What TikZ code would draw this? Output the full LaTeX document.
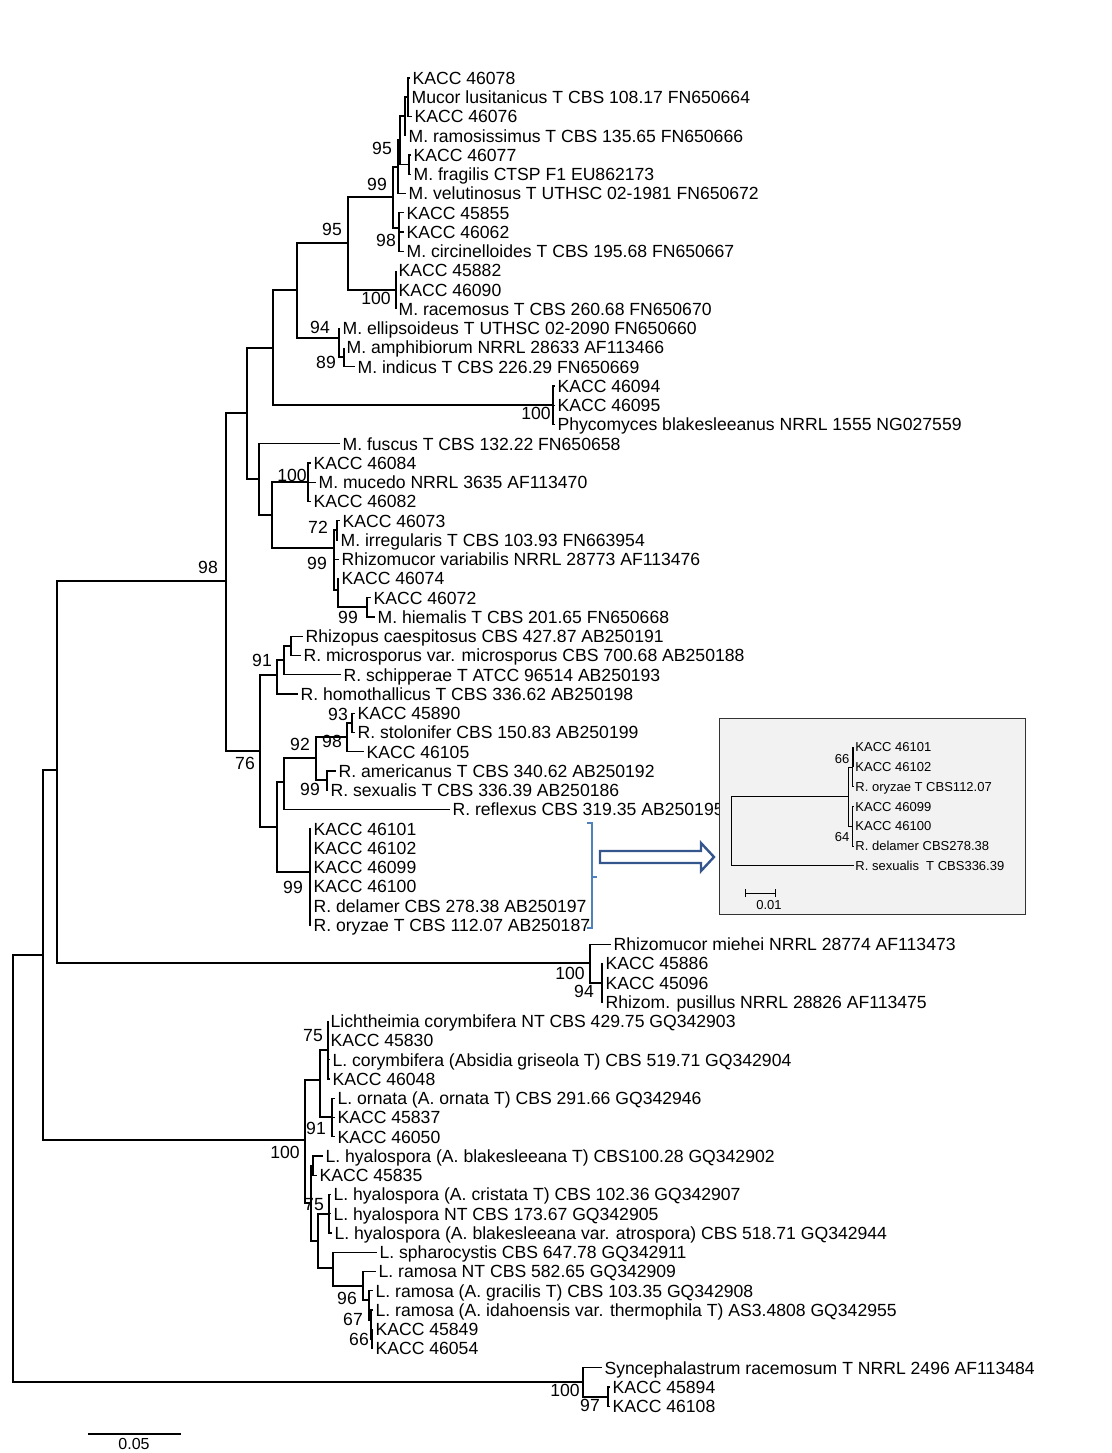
\documentclass[tikz,border=0pt]{standalone}
\usepackage{fontspec}
\setmainfont{Liberation Sans}
\definecolor{brk}{RGB}{79,129,189}
\definecolor{arw}{RGB}{52,86,140}
\definecolor{insetbg}{RGB}{242,242,242}
\newcommand{\treefont}{\fontsize{17.6}{20}\selectfont}
\newcommand{\insetfont}{\fontsize{13}{15}\selectfont}

\begin{document}
\begin{tikzpicture}[x=1pt,y=-1pt,line width=1.2pt,
    leaf/.style={anchor=west,inner xsep=2pt,inner ysep=0pt,text height=12.6pt,text depth=0pt,font=\treefont},
    bs/.style={inner sep=0pt,font=\treefont},
    ileaf/.style={anchor=west,inner xsep=1.5pt,inner ysep=0pt,text height=9.3pt,text depth=0pt,font=\insetfont},
    ibs/.style={inner sep=0pt,font=\insetfont}]
  \useasboundingbox (0,0) rectangle (1111,1453);

  % leaves
  \node [leaf] (l1) at (410,78) {KACC 46078};
  \node [leaf] (l2) at (409,97.25) {Mucor lusitanicus T CBS 108.17 FN650664};
  \node [leaf] (l3) at (412,116.5) {KACC 46076};
  \node [leaf] (l4) at (406,135.75) {M. ramosissimus T CBS 135.65 FN650666};
  \node [leaf] (l5) at (411,155) {KACC 46077};
  \node [leaf] (l6) at (411,174.25) {M. fragilis CTSP F1 EU862173};
  \node [leaf] (l7) at (406,193.5) {M. velutinosus T UTHSC 02-1981 FN650672};
  \node [leaf] (l8) at (404,212.75) {KACC 45855};
  \node [leaf] (l9) at (404,232) {KACC 46062};
  \node [leaf] (l10) at (404,251.25) {M. circinelloides T CBS 195.68 FN650667};
  \node [leaf] (l11) at (396,270.5) {KACC 45882};
  \node [leaf] (l12) at (396,289.75) {KACC 46090};
  \node [leaf] (l13) at (396,309) {M. racemosus T CBS 260.68 FN650670};
  \node [leaf] (l14) at (340,328.25) {M. ellipsoideus T UTHSC 02-2090 FN650660};
  \node [leaf] (l15) at (344,347.5) {M. amphibiorum NRRL 28633 AF113466};
  \node [leaf] (l16) at (355,366.75) {M. indicus T CBS 226.29 FN650669};
  \node [leaf] (l17) at (555,386) {KACC 46094};
  \node [leaf] (l18) at (555,405.25) {KACC 46095};
  \node [leaf] (l19) at (555,424.5) {Phycomyces blakesleeanus NRRL 1555 NG027559};
  \node [leaf] (l20) at (340,443.75) {M. fuscus T CBS 132.22 FN650658};
  \node [leaf] (l21) at (311,463) {KACC 46084};
  \node [leaf] (l22) at (316,482.25) {M. mucedo NRRL 3635 AF113470};
  \node [leaf] (l23) at (311,501.5) {KACC 46082};
  \node [leaf] (l24) at (340,520.75) {KACC 46073};
  \node [leaf] (l25) at (338,540) {M. irregularis T CBS 103.93 FN663954};
  \node [leaf] (l26) at (339,559.25) {Rhizomucor variabilis NRRL 28773 AF113476};
  \node [leaf] (l27) at (339,578.5) {KACC 46074};
  \node [leaf] (l28) at (371,597.75) {KACC 46072};
  \node [leaf] (l29) at (375,617) {M. hiemalis T CBS 201.65 FN650668};
  \node [leaf] (l30) at (303,636.25) {Rhizopus caespitosus CBS 427.87 AB250191};
  \node [leaf] (l31) at (301,655.5) {R. microsporus var. microsporus CBS 700.68 AB250188};
  \node [leaf] (l32) at (341,674.75) {R. schipperae T ATCC 96514 AB250193};
  \node [leaf] (l33) at (298,694) {R. homothallicus T CBS 336.62 AB250198};
  \node [leaf] (l34) at (355,713.25) {KACC 45890};
  \node [leaf] (l35) at (355,732.5) {R. stolonifer CBS 150.83 AB250199};
  \node [leaf] (l36) at (364,751.75) {KACC 46105};
  \node [leaf] (l37) at (336,771) {R. americanus T CBS 340.62 AB250192};
  \node [leaf] (l38) at (328,790.25) {R. sexualis T CBS 336.39 AB250186};
  \node [leaf] (l39) at (450,809.5) {R. reflexus CBS 319.35 AB250195};
  \node [leaf] (l40) at (311,828.75) {KACC 46101};
  \node [leaf] (l41) at (311,848) {KACC 46102};
  \node [leaf] (l42) at (311,867.25) {KACC 46099};
  \node [leaf] (l43) at (311,886.5) {KACC 46100};
  \node [leaf] (l44) at (311,905.75) {R. delamer CBS 278.38 AB250197};
  \node [leaf] (l45) at (311,925) {R. oryzae T CBS 112.07 AB250187};
  \node [leaf] (l46) at (611,944.25) {Rhizomucor miehei NRRL 28774 AF113473};
  \node [leaf] (l47) at (603,963.5) {KACC 45886};
  \node [leaf] (l48) at (603,982.75) {KACC 45096};
  \node [leaf] (l49) at (603,1002) {Rhizom. pusillus NRRL 28826 AF113475};
  \node [leaf] (l50) at (328,1021.25) {Lichtheimia corymbifera NT CBS 429.75 GQ342903};
  \node [leaf] (l51) at (328,1040.5) {KACC 45830};
  \node [leaf] (l52) at (330,1059.75) {L. corymbifera (Absidia griseola T) CBS 519.71 GQ342904};
  \node [leaf] (l53) at (330,1079) {KACC 46048};
  \node [leaf] (l54) at (335,1098.25) {L. ornata (A. ornata T) CBS 291.66 GQ342946};
  \node [leaf] (l55) at (335,1117.5) {KACC 45837};
  \node [leaf] (l56) at (335,1136.75) {KACC 46050};
  \node [leaf] (l57) at (323,1156) {L. hyalospora (A. blakesleeana T) CBS100.28 GQ342902};
  \node [leaf] (l58) at (317,1175.25) {KACC 45835};
  \node [leaf] (l59) at (331,1194.5) {L. hyalospora (A. cristata T) CBS 102.36 GQ342907};
  \node [leaf] (l60) at (331,1213.75) {L. hyalospora NT CBS 173.67 GQ342905};
  \node [leaf] (l61) at (332,1233) {L. hyalospora (A. blakesleeana var. atrospora) CBS 518.71 GQ342944};
  \node [leaf] (l62) at (377,1252.25) {L. spharocystis CBS 647.78 GQ342911};
  \node [leaf] (l63) at (376,1271.5) {L. ramosa NT CBS 582.65 GQ342909};
  \node [leaf] (l64) at (373,1290.75) {L. ramosa (A. gracilis T) CBS 103.35 GQ342908};
  \node [leaf] (l65) at (373,1310) {L. ramosa (A. idahoensis var. thermophila T) AS3.4808 GQ342955};
  \node [leaf] (l66) at (373,1329.25) {KACC 45849};
  \node [leaf] (l67) at (373,1348.5) {KACC 46054};
  \node [leaf] (l68) at (602,1367.75) {Syncephalastrum racemosum T NRRL 2496 AF113484};
  \node [leaf] (l69) at (610,1387) {KACC 45894};
  \node [leaf] (l70) at (610,1406.25) {KACC 46108};

  % inner nodes
  \coordinate (a1) at (408,97);
  \coordinate (a2) at (405,116);
  \coordinate (a3) at (400,140);
  \coordinate (a4) at (409,164.6);
  \coordinate (a5) at (398,167);
  \coordinate (a6) at (393,197);
  \coordinate (a7) at (399,228);
  \coordinate (a8) at (396,290);
  \coordinate (a9) at (348,243);
  \coordinate (a10) at (339,338);
  \coordinate (a11) at (344,357);
  \coordinate (a12) at (297,290);
  \coordinate (a13) at (553,405);
  \coordinate (a14) at (273,348);
  \coordinate (a15) at (247,413);
  \coordinate (b1) at (308,482);
  \coordinate (b2) at (337,530);
  \coordinate (b3) at (367,607);
  \coordinate (b4) at (338,590);
  \coordinate (b5) at (334,548);
  \coordinate (b6) at (272,515);
  \coordinate (b7) at (259,479);
  \coordinate (c1) at (291,646);
  \coordinate (c2) at (284,660);
  \coordinate (c3) at (277,675);
  \coordinate (c4) at (352,723);
  \coordinate (c5) at (347,737);
  \coordinate (c6) at (327,780);
  \coordinate (c7) at (316,758);
  \coordinate (c8) at (284,782);
  \coordinate (c9) at (310,872);
  \coordinate (c10) at (277,827);
  \coordinate (c11) at (260,751);
  \coordinate (d1) at (226,581);
  \coordinate (e1) at (602,983);
  \coordinate (e2) at (590,963);
  \coordinate (f1) at (57,770);
  \coordinate (g1) at (328,1050);
  \coordinate (g2) at (332,1117);
  \coordinate (g3) at (320,1080);
  \coordinate (g4) at (313,1166);
  \coordinate (g5) at (329,1214);
  \coordinate (g6) at (363,1286);
  \coordinate (g7) at (333,1268);
  \coordinate (g8) at (318,1241);
  \coordinate (g9) at (311,1203);
  \coordinate (g10) at (305,1140);
  \coordinate (h1) at (372,1339);
  \coordinate (h2) at (371,1320);
  \coordinate (h3) at (369,1300);
  \coordinate (i1) at (43,955);
  \coordinate (j1) at (608,1397);
  \coordinate (j2) at (583,1382);
  \coordinate (root) at (13,1168);

  % branches
  \draw (a1) |- (l1.west) (a1) |- (l2.west) (a1) |- (l3.west);
  \draw (a2) |- (a1) (a2) |- (l4.west);
  \draw (a4) |- (l5.west) (a4) |- (l6.west);
  \draw (a3) |- (a2) (a3) |- (a4);
  \draw (a5) |- (a3) (a5) |- (l7.west);
  \draw (a7) |- (l8.west) (a7) |- (l9.west) (a7) |- (l10.west);
  \draw (a6) |- (a5) (a6) |- (a7);
  \draw (a8) |- (l11.west) (a8) |- (l12.west) (a8) |- (l13.west);
  \draw (a9) |- (a6) (a9) |- (a8);
  \draw (a11) |- (l15.west) (a11) |- (l16.west);
  \draw (a10) |- (l14.west) (a10) |- (a11);
  \draw (a12) |- (a9) (a12) |- (a10);
  \draw (a13) |- (l17.west) (a13) |- (l18.west) (a13) |- (l19.west);
  \draw (a14) |- (a12) (a14) |- (a13);
  \draw (b1) |- (l21.west) (b1) |- (l22.west) (b1) |- (l23.west);
  \draw (b2) |- (l24.west) (b2) |- (l25.west);
  \draw (b3) |- (l28.west) (b3) |- (l29.west);
  \draw (b4) |- (l27.west) (b4) |- (b3);
  \draw (b5) |- (b2) (b5) |- (l26.west) (b5) |- (b4);
  \draw (b6) |- (b1) (b6) |- (b5);
  \draw (b7) |- (l20.west) (b7) |- (b6);
  \draw (a15) |- (a14) (a15) |- (b7);
  \draw (c1) |- (l30.west) (c1) |- (l31.west);
  \draw (c2) |- (c1) (c2) |- (l32.west);
  \draw (c3) |- (c2) (c3) |- (l33.west);
  \draw (c4) |- (l34.west) (c4) |- (l35.west);
  \draw (c5) |- (c4) (c5) |- (l36.west);
  \draw (c6) |- (l37.west) (c6) |- (l38.west);
  \draw (c7) |- (c5) (c7) |- (c6);
  \draw (c8) |- (c7) (c8) |- (l39.west);
  \draw (c9) |- (l40.west) (c9) |- (l45.west);
  \draw (c10) |- (c8) (c10) |- (c9);
  \draw (c11) |- (c3) (c11) |- (c10);
  \draw (d1) |- (a15) (d1) |- (c11);
  \draw (e1) |- (l47.west) (e1) |- (l48.west) (e1) |- (l49.west);
  \draw (e2) |- (l46.west) (e2) |- (e1);
  \draw (f1) |- (d1) (f1) |- (e2);
  \draw (g1) |- (l50.west) (g1) |- (l51.west) (g1) |- (l52.west) (g1) |- (l53.west);
  \draw (g2) |- (l54.west) (g2) |- (l55.west) (g2) |- (l56.west);
  \draw (g3) |- (g1) (g3) |- (g2);
  \draw (g4) |- (l57.west) (g4) |- (l58.west);
  \draw (g5) |- (l59.west) (g5) |- (l60.west) (g5) |- (l61.west);
  \draw (h1) |- (l66.west) (h1) |- (l67.west);
  \draw (h2) |- (l65.west) (h2) |- (h1);
  \draw (h3) |- (l64.west) (h3) |- (h2);
  \draw (g6) |- (l63.west) (g6) |- (h3);
  \draw (g7) |- (l62.west) (g7) |- (g6);
  \draw (g8) |- (g5) (g8) |- (g7);
  \draw (g9) |- (g4) (g9) |- (g8);
  \draw (g10) |- (g3) (g10) |- (g9);
  \draw (i1) |- (f1) (i1) |- (g10);
  \draw (j1) |- (l69.west) (j1) |- (l70.west);
  \draw (j2) |- (l68.west) (j2) |- (j1);
  \draw (root) |- (i1) (root) |- (j2);

  % support values
  \node [bs] (ta3) at (382,148) {95};
  \node [bs] (ta6) at (377,184) {99};
  \node [bs] (ta7) at (386,240) {98};
  \node [bs] (ta9) at (332,229) {95};
  \node [bs] (ta8) at (376,298) {100};
  \node [bs] (ta10) at (320,327) {94};
  \node [bs] (ta11) at (326,362) {89};
  \node [bs] (ta13) at (536,413) {100};
  \node [bs] (tb1) at (292,475) {100};
  \node [bs] (tb2) at (318,527) {72};
  \node [bs] (tb5) at (317,563) {99};
  \node [bs] (tb3) at (348,617) {99};
  \node [bs] (td1) at (208,567) {98};
  \node [bs] (tc3) at (262,660) {91};
  \node [bs] (tc4) at (338,714) {93};
  \node [bs] (tc5) at (332,741) {98};
  \node [bs] (tc7) at (300,744) {92};
  \node [bs] (tc6) at (310,789) {99};
  \node [bs] (tc11) at (245,763) {76};
  \node [bs] (tc9) at (293,887) {99};
  \node [bs] (te2) at (570,973) {100};
  \node [bs] (te1) at (584,991) {94};
  \node [bs] (tg1) at (313,1036) {75};
  \node [bs] (tg2) at (316,1128) {91};
  \node [bs] (tg10) at (285,1152) {100};
  \node [bs] (tg9) at (314,1205) {75};
  \node [bs] (th3) at (347,1298) {96};
  \node [bs] (th2) at (353,1319) {67};
  \node [bs] (th1) at (359,1339) {66};
  \node [bs] (tj2) at (565,1390) {100};
  \node [bs] (tj1) at (590,1405) {97};

  % scale bar
  \coordinate (sbl) at (88,1434);
  \coordinate (sbr) at (181,1434);
  \draw (sbl) -- (sbr);
  \node [bs,font=\fontsize{16}{18}\selectfont] (sbt) at (134,1444) {0.05};

  % bracket and arrow
  \draw [brk,line width=2pt] (587,823) -- (592,823) -- (592,928) -- (587,928)
        (592,877) -- (597,877);
  \draw [arw,fill=white,line width=2.4pt] (600,851) -- (701,851) -- (701,843) -- (714,857)
        -- (701,871) -- (701,863) -- (600,863) -- cycle;

  % inset
  \filldraw [fill=insetbg,draw=black!80,line width=1pt] (719,718) rectangle (1025,914);
  \begin{scope}[line width=0.9pt]
    \node [ileaf] (m1) at (853.5,747) {KACC 46101};
    \node [ileaf] (m2) at (853.5,766.8) {KACC 46102};
    \node [ileaf] (m3) at (853.5,786.6) {R. oryzae T CBS112.07};
    \node [ileaf] (m4) at (853.5,806.4) {KACC 46099};
    \node [ileaf] (m5) at (853.5,826.2) {KACC 46100};
    \node [ileaf] (m6) at (853.5,846) {R. delamer CBS278.38};
    \node [ileaf] (m7) at (853.5,865.8) {R. sexualis\ \ T CBS336.39};
    \coordinate (p1) at (853.5,757);
    \coordinate (p2) at (852,767);
    \coordinate (p3) at (852,826);
    \coordinate (p4) at (848,796);
    \coordinate (p5) at (731,831);
    \draw (p1) |- (m1.west) (p1) |- (m2.west);
    \draw (p2) |- (m1.west) (p2) |- (m3.west);
    \draw (p3) |- (m4.west) (p3) |- (m6.west);
    \draw (p4) |- (p2) (p4) |- (p3);
    \draw (p5) |- (p4) (p5) |- (m7.west);
    \node [ibs] (t66) at (842,759) {66};
    \node [ibs] (t64) at (842,837) {64};
    \coordinate (isl) at (745,893);
    \coordinate (isr) at (775,893);
    \draw (isl) -- (isr) ([yshift=-4pt]isl) -- ([yshift=4pt]isl) ([yshift=-4pt]isr) -- ([yshift=4pt]isr);
    \node [ibs] (ist) at (769,905) {0.01};
  \end{scope}
\end{tikzpicture}
\end{document}
